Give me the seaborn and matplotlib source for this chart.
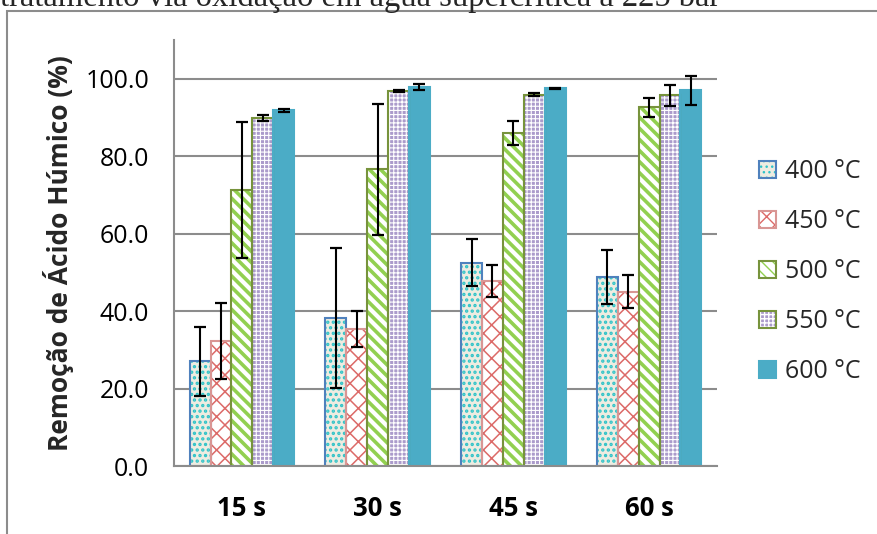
"""Humic acid removal by supercritical water oxidation at 225 bar."""

import matplotlib

matplotlib.use("Agg")

import matplotlib.pyplot as plt
import numpy as np
import pandas as pd
import seaborn as sns
from matplotlib.legend_handler import HandlerTuple
from matplotlib.patches import Patch, Rectangle

times = ["15 s", "30 s", "45 s", "60 s"]
temps = ["400 °C", "450 °C", "500 °C", "550 °C", "600 °C"]

removal_400 = [27.0, 38.2, 52.5, 48.8]
removal_450 = [32.3, 35.4, 47.8, 45.0]
removal_500 = [71.3, 76.6, 86.0, 92.6]
removal_550 = [89.8, 96.8, 95.9, 95.7]
removal_600 = [91.9, 97.9, 97.5, 97.0]

err_400 = [9.0, 18.0, 6.0, 7.0]
err_450 = [9.8, 4.7, 4.2, 4.2]
err_500 = [17.6, 17.0, 3.2, 2.5]
err_550 = [0.8, 0.2, 0.3, 2.8]
err_600 = [0.4, 0.8, 0.2, 3.7]

title_text = "tratamento via oxidação em água supercrítica a 225 bar"
y_label = "Remoção de Ácido Húmico (%)"

# styling per temperature
face_colors = ["#eeece1", "#ffffff", "#ffffff", "#ab9bcb", "#4bacc6"]
hatch_colors = ["#2fc3c8", "#dc6a68", "#92d050", "#ffffff", "#4bacc6"]
hatches = ["...", "xx", "\\\\\\", "++++", ""]
hatch_widths = [1.6, 1.1, 2.6, 0.8, 1.0]
outline_colors = ["#4f81bd", "#d99694", "#77933c", "#77933c", "#4bacc6"]

GRAY = "#8c8c8c"


def build_frame() -> pd.DataFrame:
    values = [removal_400, removal_450, removal_500, removal_550, removal_600]
    rows = []
    for temp, vals in zip(temps, values):
        for t, v in zip(times, vals):
            rows.append({"time": t, "temp": temp, "removal": v})
    return pd.DataFrame(rows)


def main() -> None:
    sns.set_theme(style="white")
    plt.rcParams["font.family"] = ["Open Sans", "DejaVu Sans"]
    plt.rcParams["hatch.linewidth"] = 1.0

    df = build_frame()
    errors = [err_400, err_450, err_500, err_550, err_600]

    fig = plt.figure(figsize=(8.77, 5.34), dpi=100)
    ax = fig.add_axes([174 / 877, 1 - 466 / 534, 543 / 877, 426 / 534])

    sns.barplot(
        data=df,
        x="time",
        y="removal",
        hue="temp",
        order=times,
        hue_order=temps,
        palette=face_colors,
        saturation=1,
        width=0.77,
        errorbar=None,
        legend=False,
        ax=ax,
    )

    bar_groups = list(ax.containers)
    for i, container in enumerate(bar_groups):
        xs, ys = [], []
        for p in container.patches:
            p.set_facecolor(face_colors[i])
            p.set_edgecolor(hatch_colors[i])
            p.set_linewidth(0)
            if hatches[i]:
                p.set_hatch(hatches[i])
                if hasattr(p, "set_hatch_linewidth"):
                    p.set_hatch_linewidth(hatch_widths[i])
            ax.add_patch(
                Rectangle(
                    (p.get_x(), p.get_y()),
                    p.get_width(),
                    p.get_height(),
                    fill=False,
                    edgecolor=outline_colors[i],
                    linewidth=1.5,
                    zorder=p.get_zorder() + 0.1,
                )
            )
            xs.append(p.get_x() + p.get_width() / 2)
            ys.append(p.get_height())
        ax.errorbar(
            xs,
            ys,
            yerr=errors[i],
            fmt="none",
            ecolor="black",
            elinewidth=1.5,
            capsize=4.2,
            capthick=1.6,
            zorder=5,
        )

    ax.set_ylim(0, 110)
    ax.set_yticks(np.arange(0, 101, 20))
    ax.yaxis.set_major_formatter("{x:.1f}")
    ax.set_xlim(-0.5, 3.5)
    ax.set_xticks([-0.5, 0.5, 1.5, 2.5, 3.5], labels=[""] * 5)
    ax.set_xticks(range(len(times)), labels=times, minor=True)
    ax.tick_params(axis="x", which="major", length=6, width=1.5, direction="out")
    ax.tick_params(axis="x", which="minor", length=0, pad=21, labelsize=18.5)
    ax.tick_params(axis="y", length=6, width=1.5, direction="out", pad=12, labelsize=18)
    ax.tick_params(axis="both", which="both", color=GRAY, labelcolor="black")
    for lbl in ax.get_xticklabels(minor=True):
        lbl.set_fontweight("bold")

    ax.yaxis.grid(True, color=GRAY, linewidth=1.5)
    ax.set_axisbelow(True)
    for side in ("top", "right"):
        ax.spines[side].set_visible(False)
    for side in ("left", "bottom"):
        ax.spines[side].set_color(GRAY)
        ax.spines[side].set_linewidth(1.5)

    ax.set_xlabel("")
    ax.set_ylabel(y_label, fontsize=19, fontweight="bold", labelpad=8)

    handles = []
    for i in range(len(temps)):
        inner = Patch(
            facecolor=face_colors[i],
            edgecolor=hatch_colors[i],
            hatch=hatches[i] or None,
            linewidth=0,
        )
        if hatches[i] and hasattr(inner, "set_hatch_linewidth"):
            inner.set_hatch_linewidth(hatch_widths[i])
        outer = Patch(fill=False, edgecolor=outline_colors[i], linewidth=1.5)
        handles.append((inner, outer))
    fig.legend(
        handles,
        temps,
        handler_map={tuple: HandlerTuple(ndivide=1, pad=0)},
        loc="center left",
        bbox_to_anchor=(0.866, 0.4915),
        frameon=False,
        fontsize=18,
        borderpad=0,
        borderaxespad=0,
        handlelength=0.68,
        handleheight=0.68,
        handletextpad=0.33,
        labelspacing=1.0,
    )

    # enclosing chart frame and the cut-off caption above it
    fig.add_artist(
        Rectangle(
            (7 / 877, -0.2),
            2.0,
            1.2 - 11 / 534,
            transform=fig.transFigure,
            fill=False,
            edgecolor=GRAY,
            linewidth=1.5,
            clip_on=False,
        )
    )
    fig.text(
        0.0,
        1 - 6 / 534,
        title_text,
        family=["Liberation Serif", "DejaVu Serif"],
        fontsize=23.5,
        va="baseline",
        ha="left",
    )

    fig.savefig("out.png", dpi=100)
    plt.close(fig)


if __name__ == "__main__":
    main()
